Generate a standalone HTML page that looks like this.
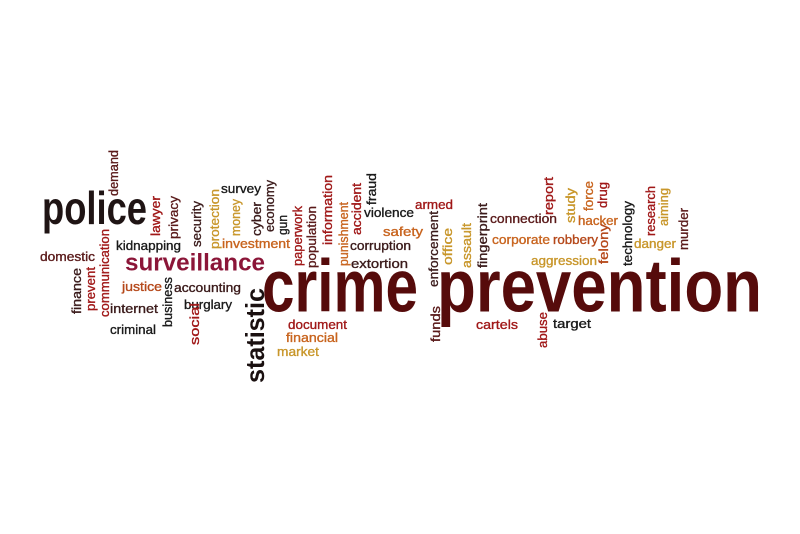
<!DOCTYPE html>
<html><head><meta charset="utf-8"><style>
html,body{margin:0;padding:0;background:#fff;}
#cloud{position:relative;width:800px;height:534px;overflow:hidden;background:#fff;font-family:"Liberation Sans",sans-serif;}
#cloud span{position:absolute;left:0;top:0;line-height:1;white-space:nowrap;transform-origin:0 0;}
</style></head><body>
<div id="cloud"></div>
<script>
// [text, x, baseline/bottom, fontSize, length, color, vertical]
const words = [
["police",42,224,46,105,"#1f1414",0],
["surveillance",125,272,24,140,"#8b1538",0],
["kidnapping",116,250,13,65,"#1a1a1a",0],
["domestic",40,261,13,55,"#5a1a1a",0],
["justice",122,291,13,40,"#b5481a",0],
["accounting",174,292,13,67,"#3a1a1a",0],
["internet",110,313,13,48,"#3a1a1a",0],
["burglary",184,309,13,48,"#1a1a1a",0],
["criminal",110,334,13,46,"#1a1a1a",0],
["survey",221,193,13,40,"#1a1a1a",0],
["investment",222,248,13,68,"#c8641e",0],
["violence",364,217,13,50,"#1a1a1a",0],
["armed",415,209,13,38,"#a01818",0],
["safety",383,236,13,40,"#c8641e",0],
["corruption",350,250,13,61,"#3a1a1a",0],
["extortion",351,268,13,57,"#3a1a1a",0],
["document",288,329,13,59,"#a01818",0],
["financial",286,342,13,52,"#c8641e",0],
["market",277,356,13,42,"#c8962a",0],
["connection",490,223,13,67,"#5a1a1a",0],
["corporate",492,244,13,58,"#c8641e",0],
["robbery",553,244,13,45,"#b5481a",0],
["hacker",578,225,13,40,"#c8641e",0],
["aggression",531,265,13,66,"#c8962a",0],
["danger",634,248,13,42,"#c8962a",0],
["cartels",476,329,13,42,"#a01818",0],
["target",553,328,13,38,"#1a1a1a",0],
["crime",262,312,74,156,"#560b0b",0],
["prevention",437,312,74,325,"#560b0b",0],
["demand",118,196,13,46,"#5a1a1a",1],
["finance",81,314,13,46,"#3a1a1a",1],
["prevent",95,311,13,44,"#a01818",1],
["communication",109,317,13,88,"#a01818",1],
["lawyer",160,236,13,40,"#a01818",1],
["privacy",178,239,13,43,"#5a1a1a",1],
["security",201,247,13,46,"#3a1a1a",1],
["protection",219,249,13,60,"#c8962a",1],
["money",240,236,13,37,"#c8962a",1],
["cyber",261,236,13,34,"#3a1a1a",1],
["economy",274,232,13,52,"#3a1a1a",1],
["gun",287,235,13,20,"#1a1a1a",1],
["business",172,327,13,50,"#1a1a1a",1],
["social",199,345,13,42,"#a01818",1],
["statistic",264,383,26,95,"#1a1010",1],
["paperwork",302,266,13,60,"#a01818",1],
["population",316,268,13,62,"#5a1a1a",1],
["information",332,245,13,70,"#a01818",1],
["punishment",348,266,13,64,"#c8641e",1],
["accident",361,235,13,52,"#a01818",1],
["fraud",376,205,13,32,"#1a1a1a",1],
["enforcement",438,287,13,76,"#3a1a1a",1],
["funds",440,342,13,36,"#5a1a1a",1],
["office",452,265,13,37,"#c8962a",1],
["assault",471,268,13,45,"#c8962a",1],
["fingerprint",487,268,13,65,"#3a1a1a",1],
["abuse",547,348,13,36,"#a01818",1],
["report",553,215,13,38,"#a01818",1],
["study",575,223,13,35,"#c8962a",1],
["force",593,211,13,30,"#c8641e",1],
["drug",607,208,13,26,"#a01818",1],
["felony",608,264,13,40,"#b5481a",1],
["technology",632,266,13,65,"#1a1a1a",1],
["research",655,236,13,50,"#a01818",1],
["aiming",668,226,13,38,"#c8962a",1],
["murder",688,250,13,42,"#5a1a1a",1]
];
const cloud = document.getElementById('cloud');
words.forEach(w => {
  const [t,x,y,f,len,c,v] = w;
  const s = document.createElement('span');
  
  
  s.textContent = t;
  s.style.fontSize = f + 'px';
  s.style.color = c;
  if (f >= 20) s.style.fontWeight = 'bold';
  else s.style.webkitTextStroke = '0.35px ' + c;
  cloud.appendChild(s);
  const mw = s.getBoundingClientRect().width;
  const sx = len / mw;
  const off = 0.846 * f;
  if (!v) {
    s.style.transform = `translate(${x}px,${y}px) scale(${sx},1) translate(0,${-off}px)`;
  } else {
    s.style.transform = `translate(${x}px,${y}px) rotate(-90deg) scale(${sx},1) translate(0,${-off}px)`;
  }
});
</script>
</body></html>
